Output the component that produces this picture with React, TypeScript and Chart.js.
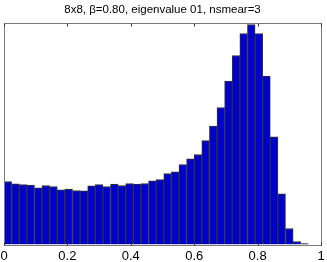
import React, { useEffect, useRef } from "react";
import { Chart, registerables } from "chart.js";

Chart.register(...registerables);

const titleText = "8x8, \u03b2=0.80, eigenvalue 01, nsmear=3";
const binWidth = 0.024;
const counts = [
  63, 60.7, 60, 59.3, 56.7, 59, 58, 54.7, 55.3, 54,
  53.7, 58.7, 60, 58, 60.3, 59, 61, 60.3, 61, 63.7,
  65, 71, 72.7, 80, 85.7, 90, 104, 118.3, 137, 163.3,
  189, 211, 220, 211, 168.3, 107.7, 50.7, 16, 3, 1,
];
const xTicks = [0, 0.2, 0.4, 0.6, 0.8, 1];
const yMax = 222;

const framePlugin = {
  id: "frame",
  afterDraw(chart: any) {
    const { ctx, chartArea } = chart;
    const xs = chart.scales.x;
    ctx.save();
    ctx.strokeStyle = "#7a7a7a";
    ctx.lineWidth = 1;
    const l = Math.round(chartArea.left) + 0.5;
    const r = Math.round(chartArea.right) + 0.5;
    const t = Math.round(chartArea.top) + 0.5;
    const b = Math.round(chartArea.bottom) + 0.5;
    ctx.strokeRect(l, t, r - l, b - t);
    ctx.strokeStyle = "#333";
    ctx.beginPath();
    for (const v of xTicks) {
      const px = Math.round(xs.getPixelForValue(v)) + 0.5;
      ctx.moveTo(px, t);
      ctx.lineTo(px, t + 3);
      ctx.moveTo(px, b);
      ctx.lineTo(px, b - 3);
    }
    ctx.stroke();
    ctx.restore();
  },
};

export default function App() {
  const ref = useRef<HTMLCanvasElement>(null);
  useEffect(() => {
    if (!ref.current) return;
    const data = counts.map((c, i) => ({ x: binWidth * (i + 0.5), y: c }));
    const chart = new Chart(ref.current, {
      type: "bar",
      data: {
        datasets: [
          {
            data: data as any,
            backgroundColor: "#0000cc",
            borderColor: "#333333",
            borderWidth: 1,
            barPercentage: 1,
            categoryPercentage: 1,
          },
        ],
      },
      options: {
        animation: false,
        responsive: false,
        layout: { padding: { left: 4, right: 6, top: 0, bottom: 0 } },
        plugins: {
          legend: { display: false },
          tooltip: { enabled: false },
          title: {
            display: true,
            text: titleText,
            color: "#000",
            font: { family: "Liberation Sans, Arial, sans-serif", size: 11.5, weight: "normal" as any },
            padding: { top: 3, bottom: 5.7 },
          },
        },
        scales: {
          x: {
            type: "linear",
            min: 0,
            max: 1,
            offset: false,
            grid: { display: false, drawTicks: false },
            border: { display: false },
            afterBuildTicks: (s: any) => {
              s.ticks = xTicks.map((v) => ({ value: v }));
            },
            afterFit: (s: any) => {
              s.height = 17.5;
              s.paddingLeft = 0;
              s.paddingRight = 0;
            },
            ticks: {
              color: "#000",
              padding: 4,
              maxRotation: 0,
              autoSkip: false,
              font: { family: "Liberation Sans, Arial, sans-serif", size: 13 },
              callback: (v: any) => String(v),
            },
          },
          y: {
            display: false,
            min: 0,
            max: yMax,
          },
        },
      },
      plugins: [framePlugin],
    });
    return () => chart.destroy();
  }, []);
  return (
    <div style={{ position: "fixed", left: 0, top: 0, width: 327, height: 262, background: "#fff" }}>
      <canvas ref={ref} width={327} height={262} style={{ display: "block" }} />
    </div>
  );
}
